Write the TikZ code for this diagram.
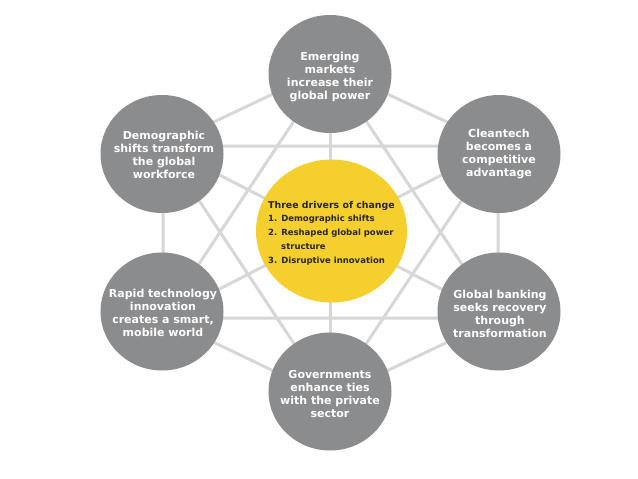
\documentclass[tikz,border=0pt]{standalone}
\usepackage{fontspec}
\setmainfont{DejaVu Sans}
\usetikzlibrary{shapes.geometric}
\definecolor{circgray}{RGB}{139,140,142}
\definecolor{linegray}{RGB}{214,215,217}
\definecolor{eyyellow}{RGB}{245,207,45}
\definecolor{darktext}{RGB}{40,38,36}
\begin{document}
\begin{tikzpicture}[x=1pt,y=-1pt,
  link/.style={draw=linegray, line width=3pt},
  outer/.style={ellipse, fill=circgray, minimum width=123pt, minimum height=118pt, inner sep=0pt},
  hub/.style={ellipse, fill=eyyellow, minimum width=151pt, minimum height=143pt, inner sep=0pt},
  outertext/.style={text=white, align=center, inner sep=0pt, font=\bfseries\fontsize{11}{13}\selectfont},
  hubtext/.style={text=darktext, align=left, inner sep=0pt, anchor=west, font=\bfseries\fontsize{8.5}{13.7}\selectfont}]
\useasboundingbox (0,0) rectangle (638,479);
\fill[white] (0,0) rectangle (638,479);
% line end points
\coordinate (pt) at (330,67);
\coordinate (pul) at (163,146);
\coordinate (pur) at (498,146);
\coordinate (pll) at (163,318);
\coordinate (plr) at (498,318);
\coordinate (pb) at (330,398);
% hexagon sides
\draw[link] (pt) -- (pul) -- (pll) -- (pb) -- (plr) -- (pur) -- (pt);
% triangles
\draw[link] (pt) -- (pll) -- (plr) -- cycle;
\draw[link] (pb) -- (pul) -- (pur) -- cycle;
% long diagonals
\draw[link] (pt) -- (pb);
\draw[link] (pul) -- (plr);
\draw[link] (pur) -- (pll);
% circles
\node[hub] (hub) at (331.5,231) {};
\node[outer] (top) at (330,74) {};
\node[outer] (ul) at (162,154) {};
\node[outer] (ur) at (499,154) {};
\node[outer] (ll) at (162,311.5) {};
\node[outer] (lr) at (499,311.5) {};
\node[outer] (bot) at (330,391.5) {};
% texts
\node[outertext] (ttop) at ([yshift=-3pt]top.center) {Emerging\\markets\\increase their\\global power};
\node[outertext] (tul) at ([xshift=2pt,yshift=-1pt]ul.center) {Demographic\\shifts transform\\the global\\workforce};
\node[outertext] (tur) at (ur.center) {Cleantech\\becomes a\\competitive\\advantage};
\node[outertext] (tll) at ([xshift=1pt,yshift=-1pt]ll.center) {Rapid technology\\innovation\\creates a smart,\\mobile world};
\node[outertext] (tlr) at ([xshift=1pt,yshift=-2pt]lr.center) {Global banking\\seeks recovery\\through\\transformation};
\node[outertext] (tbot) at ([yshift=-2pt]bot.center) {Governments\\enhance ties\\with the private\\sector};
\node[hubtext] (thub) at (268,233) {{\fontsize{9.4}{13.7}\selectfont Three drivers of change}\\1. Demographic shifts\\2. Reshaped global power\\\hspace*{13pt}structure\\3. Disruptive innovation};
\end{tikzpicture}
\end{document}
